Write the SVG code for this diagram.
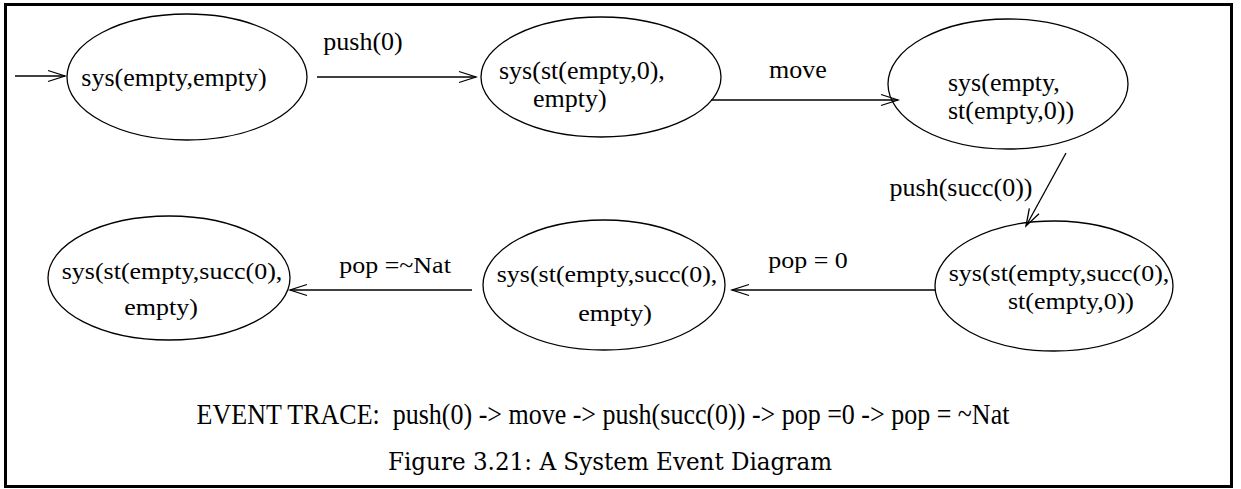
<svg xmlns="http://www.w3.org/2000/svg" width="1241" height="489" viewBox="0 0 1241 489">
<style>
.n{fill:none;stroke:#000;stroke-width:1.3}
.c{fill:none;stroke:#000;stroke-width:1.3;marker-end:url(#ah)}
text{font-family:"Liberation Serif","Times New Roman",serif;font-size:26px;fill:#000}
.m{text-anchor:middle}
.cap{font-family:"DejaVu Serif","Liberation Serif",serif;font-size:25px;text-anchor:middle}
</style>
<defs>
<marker id="ah" markerUnits="userSpaceOnUse" markerWidth="20" markerHeight="12" refX="17" refY="5.5" orient="auto" overflow="visible">
<path d="M0,0 L17,5.5 L0,11" fill="none" stroke="#000" stroke-width="1.3"/>
</marker>
</defs>
<rect x="5.5" y="4.5" width="1226" height="482" fill="#fff" stroke="#000" stroke-width="3"/>
<g id="connectors">
<line class="c" x1="15" y1="76" x2="65" y2="76"/>
<line class="c" x1="317" y1="77" x2="476" y2="77"/>
<line class="c" x1="711" y1="100" x2="898" y2="100"/>
<line class="c" x1="1066" y1="153" x2="1026" y2="226"/>
<line class="c" x1="935" y1="290" x2="732" y2="290"/>
<line class="c" x1="472" y1="290" x2="290" y2="290"/>
<text class="m" x="363" y="50">push(0)</text>
<text class="m" x="798" y="78">move</text>
<text class="m" x="961" y="196">push(succ(0))</text>
<text class="m" transform="translate(808,268) scale(1,0.9)">pop = 0</text>
<text class="m" transform="translate(395,273) scale(1,0.9)">pop =~Nat</text>
</g>
<g id="n1">
<ellipse class="n" cx="187" cy="77" rx="120" ry="63"/>
<text class="m" x="174" y="86">sys(empty,empty)</text>
</g>
<g id="n2">
<ellipse class="n" cx="601" cy="77" rx="120" ry="60"/>
<text x="499" y="79">sys(st(empty,0),</text>
<text x="533" y="107">empty)</text>
</g>
<g id="n3">
<ellipse class="n" cx="1008" cy="84" rx="120" ry="65"/>
<text x="948" y="91">sys(empty,</text>
<text x="948" y="119">st(empty,0))</text>
</g>
<g id="n4">
<ellipse class="n" cx="1054" cy="286" rx="119" ry="65"/>
<text class="m" transform="translate(1059,281) scale(1,0.9)">sys(st(empty,succ(0),</text>
<text class="m" transform="translate(1071,309) scale(1,0.9)">st(empty,0))</text>
</g>
<g id="n5">
<ellipse class="n" cx="604" cy="285" rx="121" ry="65"/>
<text class="m" transform="translate(607,282) scale(1,0.9)">sys(st(empty,succ(0),</text>
<text class="m" transform="translate(615,321) scale(1,0.9)">empty)</text>
</g>
<g id="n6">
<ellipse class="n" cx="169" cy="278" rx="121" ry="62"/>
<text class="m" transform="translate(172,279) scale(1,0.9)">sys(st(empty,succ(0),</text>
<text class="m" transform="translate(161,315) scale(1,0.9)">empty)</text>
</g>
<text class="m" xml:space="preserve" transform="translate(603,424) scale(1,1.12)">EVENT TRACE:  push(0) -&gt; move -&gt; push(succ(0)) -&gt; pop =0 -&gt; pop = ~Nat</text>
<text class="cap" x="610" y="470" textLength="444" lengthAdjust="spacingAndGlyphs">Figure 3.21: A System Event Diagram</text>
</svg>
